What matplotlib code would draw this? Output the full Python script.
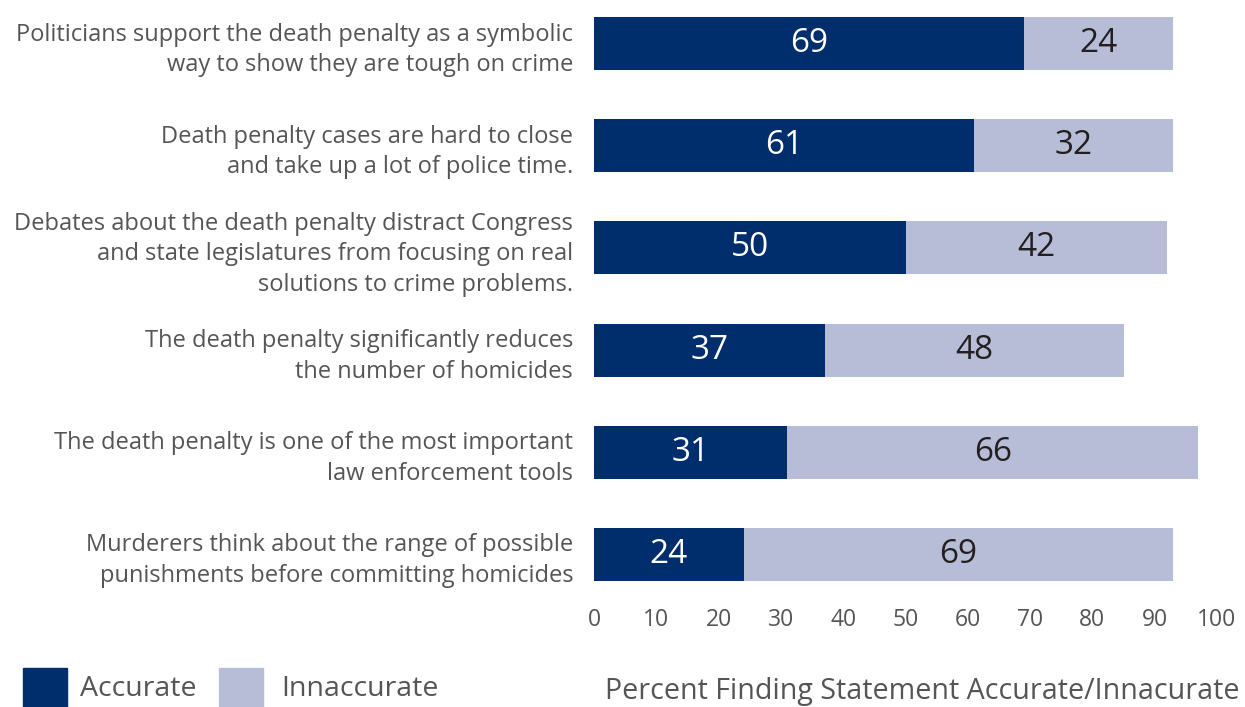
import matplotlib
matplotlib.use("Agg")
import matplotlib.pyplot as plt
from matplotlib.patches import Rectangle

statements = [
    "Politicians support the death penalty as a symbolic\nway to show they are tough on crime",
    "Death penalty cases are hard to close\nand take up a lot of police time.",
    "Debates about the death penalty distract Congress\nand state legislatures from focusing on real\nsolutions to crime problems.",
    "The death penalty significantly reduces\nthe number of homicides",
    "The death penalty is one of the most important\nlaw enforcement tools",
    "Murderers think about the range of possible\npunishments before committing homicides",
]
accurate = [69, 61, 50, 37, 31, 24]
inaccurate = [24, 32, 42, 48, 66, 69]
xticks = [0, 10, 20, 30, 40, 50, 60, 70, 80, 90, 100]

DARK = "#002D6B"
LIGHT = "#B8BDD7"
GREY = "#555555"
FONT = ["Open Sans", "DejaVu Sans"]
plt.rcParams['font.family'] = FONT

fig = plt.figure(figsize=(12.45, 7.07), dpi=100)
ax = fig.add_axes([594/1245, 1-595/707, (1217-594)/1245, 595/707])

y = list(range(len(statements)))
h = 0.52
ax.barh(y, accurate, height=h, color=DARK)
ax.barh(y, inaccurate, left=accurate, height=h, color=LIGHT)

for i, (a, b) in enumerate(zip(accurate, inaccurate)):
    ax.text(a/2, i, str(a), ha='center', va='center', color='white', fontsize=24)
    ax.text(a + b/2, i, str(b), ha='center', va='center', color='#231F20', fontsize=24)

ax.set_xlim(0, 100)
ax.set_ylim(5.397, -0.426)
ax.set_xticks(xticks)
ax.set_xticklabels([str(t) for t in xticks], color=GREY, fontsize=16.5)
ax.set_yticks(y)
ax.set_yticklabels(statements, color=GREY, fontsize=17, linespacing=1.36)
for lab in ax.get_yticklabels():
    lab.set_multialignment('right')
ax.tick_params(axis='both', length=0)
ax.tick_params(axis='x', pad=9)
ax.tick_params(axis='y', pad=15)
for s in ax.spines.values():
    s.set_visible(False)

fig.text(922/1245, 1-691/707, "Percent Finding Statement Accurate/Innacurate",
         ha='center', va='center', color=GREY, fontsize=20.6)

# legend
for x0, col, lab, tx in [(23, DARK, "Accurate", 80), (219, LIGHT, "Innaccurate", 281)]:
    fig.patches.append(Rectangle((x0/1245, 0), 44/1245, 39/707, transform=fig.transFigure,
                                 color=col, clip_on=False))
    fig.text(tx/1245, 1-689/707, lab, ha='left', va='center', color=GREY, fontsize=20.5)

fig.savefig("out.png", dpi=100)
